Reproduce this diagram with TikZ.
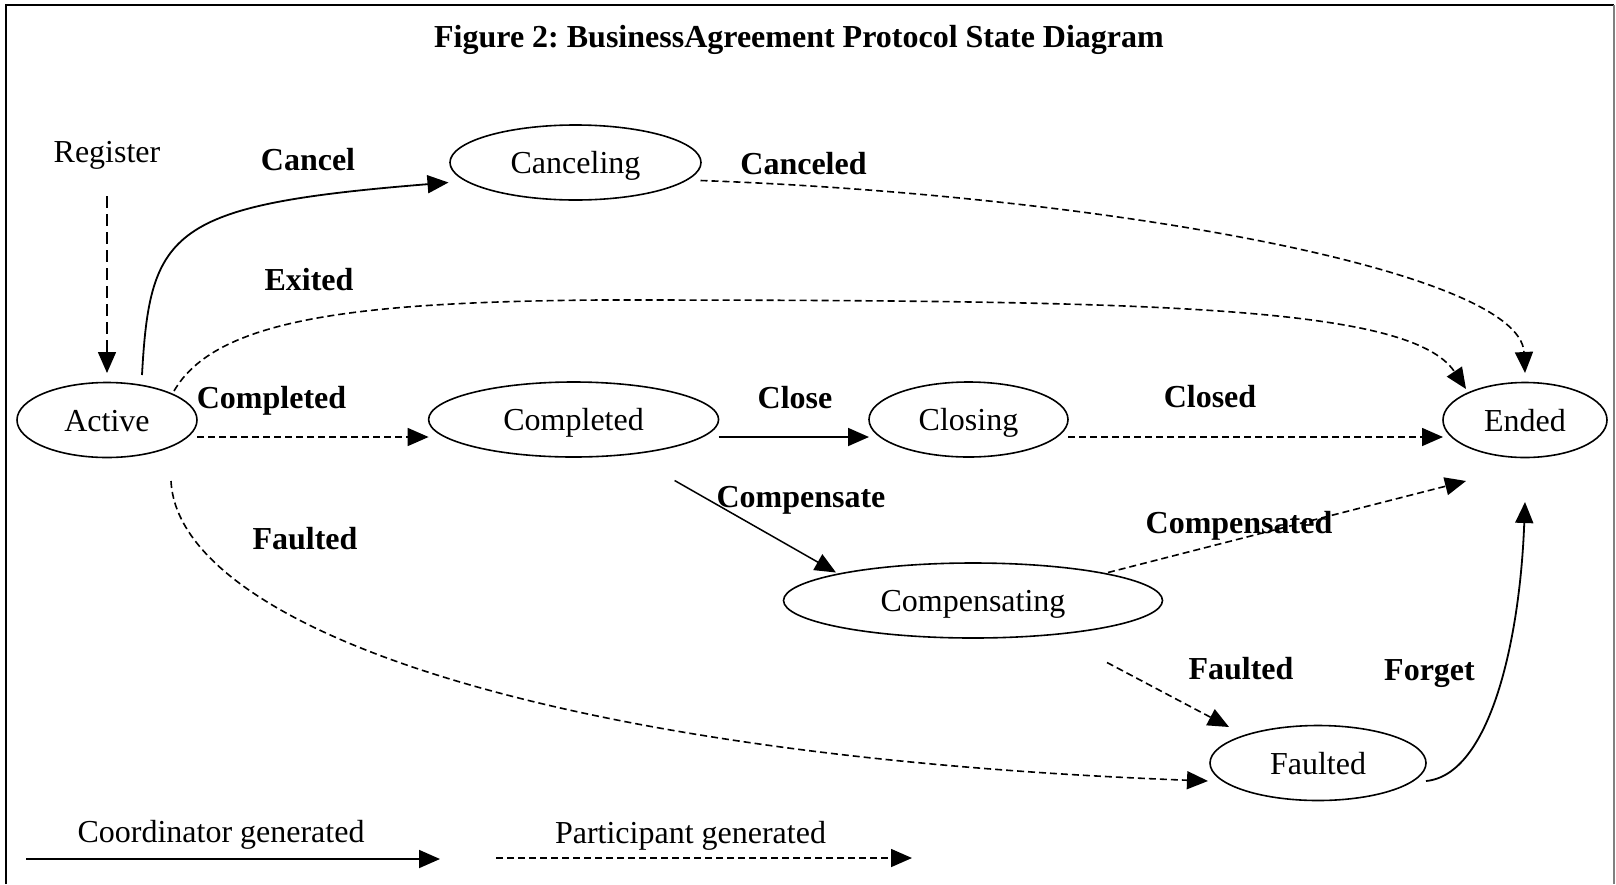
\documentclass[tikz,border=0pt]{standalone}
\usepackage{fontspec}
\setmainfont{Liberation Serif}
\usetikzlibrary{arrows.meta,shapes.geometric,calc}
\frenchspacing
\begin{document}
\begin{tikzpicture}[x=1pt,y=-1pt,
  font=\fontsize{32}{38}\selectfont,
  state/.style={ellipse, draw, line width=1.6pt, inner sep=0pt, minimum height=75pt,
                text height=22pt, text depth=0pt},
  lbl/.style={anchor=base, inner sep=0pt, font=\fontsize{32}{38}\selectfont\bfseries},
  txt/.style={anchor=base, inner sep=0pt},
  coordarrow/.style={line width=1.8pt, -{Triangle[length=21pt,width=18pt]}},
  partarrow/.style={line width=1.6pt, dash pattern=on 7pt off 4pt, -{Triangle[length=21pt,width=18pt]}},
]
\useasboundingbox (0,0) rectangle (1616,884);
% frame
\draw[line width=1.6pt] (6,884) -- (6,5) -- (1614,5);
\draw[line width=1.2pt, gray] (1614,5) -- (1614,884);

% title
\node[lbl] (title) at (799,47) {Figure 2: BusinessAgreement Protocol State Diagram};

% states
\node[state, minimum width=180pt] (active) at (107,420) {Active};
\node[state, minimum width=251pt] (canceling) at (575.5,162.5) {Canceling};
\node[state, minimum width=290pt] (completed) at (573.6,419.5) {Completed};
\node[state, minimum width=199pt] (closing) at (968.5,419.5) {Closing};
\node[state, minimum width=164pt] (ended) at (1525,420) {Ended};
\node[state, minimum width=379pt] (compensating) at (973,600.5) {Compensating};
\node[state, minimum width=216pt] (faulted) at (1318,763) {Faulted};

% plain texts
\node[txt] (register) at (107,162) {Register};

% connectors
\draw[partarrow, dash pattern=on 12pt off 6pt] ($(register.base)+(0,34)$) -- ($(active)+(0,-47)$);
\draw[coordarrow] ($(active)+(35,-45)$) .. controls (150,230) and (170,205) .. ($(canceling)+(-127,20)$);
\draw[partarrow] ($(canceling)+(125,18)$) .. controls (1100,195) and (1520,270) .. ($(ended)+(0,-47)$);
\draw[partarrow] ($(active)+(67,-29)$) .. controls (215,320) and (350,302) .. (600,300)
   .. controls (1150,300) and (1410,305) .. ($(ended)+(-59,-31)$);
\draw[partarrow] ($(active)+(90,17)$) -- ($(completed)+(-145,17.5)$);
\draw[coordarrow] ($(completed)+(145,17.5)$) -- ($(closing)+(-99.5,17.5)$);
\draw[partarrow] ($(closing)+(99.5,17.5)$) -- ($(ended)+(-82,17)$);
\draw[coordarrow, line width=1.5pt] ($(completed)+(101,61)$) -- ($(compensating)+(-137,-28)$);
\draw[partarrow] ($(compensating)+(135,-28)$) -- ($(ended)+(-59,61)$);
\draw[partarrow] ($(compensating)+(134,62)$) -- ($(faulted)+(-89,-36)$);
\draw[partarrow] ($(active)+(64,61)$) .. controls (178,620) and (520,755) .. ($(faulted)+(-110,18)$);
\draw[coordarrow] ($(faulted)+(108,18)$) .. controls (1490,775) and (1520,640) .. ($(ended)+(0,82)$);

% labels
\node[lbl] (lcancel) at (308,170) {Cancel};
\node[lbl] (lexited) at (309,290.5) {Exited};
\node[lbl] (lcompleted) at (271.5,408) {Completed};
\node[lbl] (lcanceled) at (803.5,174) {Canceled};
\node[lbl] (lclose) at (795,408) {Close};
\node[lbl] (lclosed) at (1210,407) {Closed};
\node[lbl] (lcompensate) at (801,507) {Compensate};
\node[lbl] (lfaultedA) at (305,549) {Faulted};
\node[lbl] (lcompensated) at (1239,533) {Compensated};
\node[lbl] (lfaultedB) at (1241,679) {Faulted};
\node[lbl] (lforget) at (1429.5,680) {Forget};

% legend
\node[txt] (legcoord) at (221,842) {Coordinator generated};
\node[txt] (legpart) at (690.5,843) {Participant generated};
\coordinate (lc1) at (26,859);
\coordinate (lc2) at (440,859);
\coordinate (lp1) at (496,858);
\coordinate (lp2) at (912,858);
\draw[coordarrow] (lc1) -- (lc2);
\draw[partarrow] (lp1) -- (lp2);
\end{tikzpicture}
\end{document}
